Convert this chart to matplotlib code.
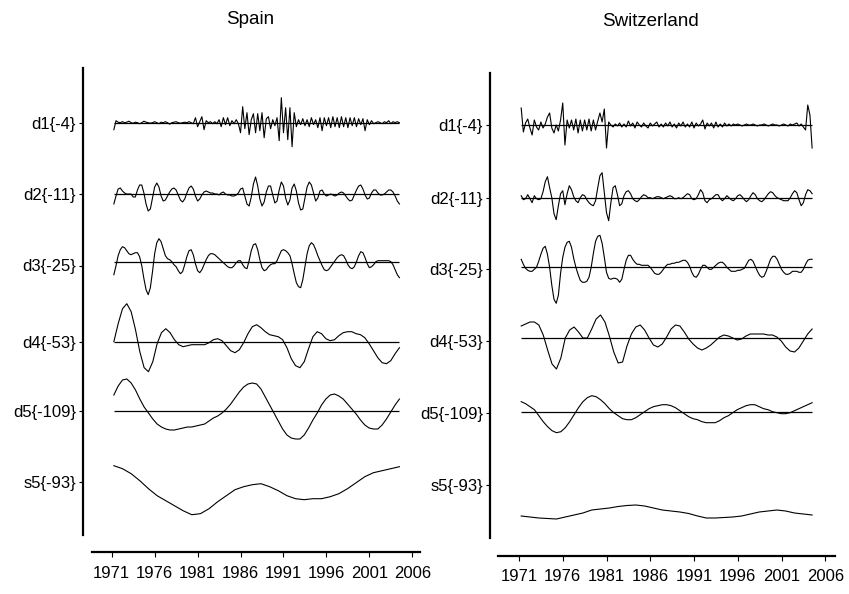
import numpy as np
import matplotlib
matplotlib.use("Agg")
import matplotlib.pyplot as plt

plt.rcParams['font.family'] = ['Liberation Sans', 'DejaVu Sans']

# wavelet MRA of two series, 1971Q2 - 2004Q3
row_labels = ['d1{-4}', 'd2{-11}', 'd3{-25}', 'd4{-53}', 'd5{-109}', 's5{-93}']
year_ticks = [1971, 1976, 1981, 1986, 1991, 1996, 2001, 2006]
t_start, t_end = 1971.25, 2004.5

# values are offsets (in row units, up = positive) from each row's zero line
spain_d1 = [-7, 2,
            0.5, 0, 1, 0, 0.5, 1.5, 0, -0.5, 0.5, 0, -1, 0, 1.5, 0.5, 0, -0.5, 0, 1,
            0, -1, 0.5, 0, 1, 0, -1.5, 0, 0.5, 1, 0, -0.5, 0, 0.5, 0, 1, 0, -1,
            5, -4, 1, 6, -7, 2, 0, 1, -1, 1, -1, 3, -4, 5, -2, 5, -3, 2, -1, 3, -1,
            -10, 16, -6, 10, -12, 3, 9, -10, 9, -8, 10, -15, 4, 6, -6, 3, -3, 5, -18, 25,
            -10, 15, -17, 15, -24, 10, -4, 3,
            -2, 4, -3, 3, -4, 5, -2, 3, -5, 5, -8, 5, -3, 5, -5, 6, -4, 5, -5, 6,
            -4, 5, -5, 5, -3, 5, -4, 4, -2, 4, -8, 3, -2, 2, -1, 0, 1, 0, -1, 1,
            0, 2, -1, 1, 0, 1, 0]
spain_d2 = [-10, -2, 5, 6, 3, 1, 0, 0, 0, -3, -3, 4, 9, 9, 1, -10, -17, -15, -4, 7,
            11, 7, -2, -7, -6, -2, 2, 5, 6, 4, -1, -6, -8, -5, 1, 6, 8, 5, -2, -7,
            -5, -1, 2, 3, 2, 1, 1, 0, 0, -1, 1, 2, 0, -1, -1, -2, -2, -1, 1, 5,
            6, -2, -10, -12, -3, 10, 17, 8, -5, -12, -8, 2, 8, 8, -1, -9, -7, 4, 12, 8,
            -4, -11, -6, 6, 10, 3, -9, -16, -15, -4, 7, 12, 9, 1, -7, -4, 3, 4, 0, -2,
            -1, 0, -1, -2, -1, 1, 2, 1, -2, -5, -7, -6, -1, 4, 8, 9, 5, -1, -5, -4,
            1, 4, 4, 1, -1, -1, 0, 2, 4, 4, 2, -2, -7, -10]
spain_d3 = [-13, -4, 6, 12, 15, 14, 11, 8, 7, 8, 9, 9, 5, -4, -17, -28, -33, -26, -10, 8,
            19, 23, 20, 13, 6, 3, 2, 0, -3, -5, -9, -12, -10, -3, 5, 11, 12, 7, -2, -9,
            -11, -8, -3, 2, 6, 8, 8, 7, 5, 3, 1, -1, -3, -5, -6, -6, -4, -1, 1, 1,
            -3, -6, -7, 1, 11, 17, 18, 12, 2, -6, -9, -8, -5, -3, -2, -2, 1, 6, 11, 12,
            11, 9, 6, -2, -12, -21, -25, -26, -18, -5, 8, 16, 19, 17, 12, 6, 1, -4, -8, -9,
            -8, -5, -2, 1, 4, 6, 7, 6, 2, -3, -6, -7, -5, 0, 6, 10, 9, 4, -2, -6,
            -5, -3, 0, 1, 1, 1, 1, 1, 1, 0, -3, -8, -13, -16]
spain_d4 = [0, 18, 33, 38, 30, 12, -10, -26, -30, -20, -2, 9, 13, 9, 2, -3, -5, -4, -3, -3,
            -3, -3, -1, 2, 3, 1, -4, -9, -11, -8, -1, 8, 15, 17, 14, 10, 7, 6, 5, 2,
            -6, -17, -24, -26, -20, -7, 5, 10, 8, 3, 1, 2, 6, 9, 10, 10, 8, 7, 4, -2,
            -9, -16, -21, -22, -19, -12, -6]
spain_d5 = [16, 25, 31, 32, 28, 21, 12, 4, -2, -8, -13, -16, -18, -19, -19, -18, -17, -16, -16, -15,
            -14, -13, -10, -7, -5, -2, 2, 7, 13, 19, 24, 27, 28, 27, 22, 14, 6, -2, -10, -18,
            -24, -27, -28, -28, -24, -17, -9, -2, 6, 12, 16, 17, 15, 12, 7, 2, -3, -9, -14, -17,
            -18, -18, -14, -8, -1, 6, 12]
spain_s5 = [16, 13, 8, 1, -7, -14, -19, -24, -29, -33, -32, -27, -20, -14, -8, -5, -3, -2, -5, -9,
            -14, -17, -18, -17, -17, -15, -12, -7, -1, 5, 9, 11, 13, 15]

swiss_d1 = [17, -7, 2, 6, -3, -10, 5, -2, -5, 3, -3, 1, 8, 12, -3, -8, 0, -6, 5, 22,
            -20, 5, -3, 5, -5, 6, -8, 5, -6, 5, -5, 6, -6, 5, -5, 4, 12, 3, 16, -23,
            3, 0, -2, 1, -1, 2, -2, 1, -2, 4, -1, 2, -3, 3, 0, -2, 2, -1, -3, 2,
            -1, 1, 3, -2, 1, -2, 2, -1, 3, -2, 1, -3, 2, -1, 3, -2, 1, -2, 3, -3,
            2, -1, 1, 5, -4, 2, -1, 2, -3, 3, -2, 1, -2, 2, -1, 1, -1, 1, 0, 1,
            0, -1, 0, 1, 0, 0, 1, 0, -1, 0, 0, 1, 0, -1, 0, 1, 0, 0, -1, 0,
            1, 0, -1, 1, 0, 1, 2, -1, 1, -2, -5, 20, 10, -23]
swiss_d2 = [2, -2, -1, 3, -1, -5, 2, -1, -2, -1, 6, 16, 21, 10, 0, -16, -22, -8, 4, 7,
            -7, 4, 12, 8, 1, -3, -5, 0, 3, 2, -2, -5, -7, -8, -3, 10, 22, 25, 5, -15,
            -23, -5, 10, 12, 3, -8, -6, 2, 6, 7, 4, -1, -3, -4, -2, 1, 3, 2, 0, 0,
            -1, 0, 1, 1, 0, -1, 0, 1, 2, 1, -1, -1, 0, -1, 0, 2, 4, 3, -1, -2,
            -1, 3, 8, 5, -3, -5, -2, -1, 1, 3, 3, -1, -3, -1, 2, 0, -2, -3, -1, 2,
            3, 1, -2, -4, -2, 2, 5, 3, -1, -3, -4, -2, 1, 4, 6, 5, 2, 0, -1, -2,
            -3, -3, -3, 0, 4, 7, 5, -2, -8, -5, 3, 8, 7, 4]
swiss_d3 = [8, 3, -1, -3, -4, -4, -2, 0, 6, 13, 19, 21, 13, 0, -18, -32, -36, -28, -6, 10,
            20, 25, 26, 20, 9, 0, -7, -13, -15, -15, -14, -10, 0, 14, 26, 31, 32, 24, 10, -5,
            -11, -12, -11, -11, -12, -15, -12, -2, 7, 12, 12, 8, 5, 3, 3, 2, 2, 2, 2, 0,
            -3, -6, -7, -7, -5, -2, 1, 3, 3, 4, 4, 5, 5, 6, 7, 7, 5, 1, -5, -9,
            -10, -7, -2, 2, 2, 0, -2, -2, 0, 2, 4, 5, 5, 3, 0, -2, -4, -4, -4, -3,
            -3, -2, -1, 3, 7, 8, 6, 1, -4, -8, -10, -9, -4, 2, 8, 11, 11, 8, 3, -2,
            -5, -7, -7, -6, -4, -4, -4, -5, -5, -2, 3, 7, 8, 8]
swiss_d4 = [12, 14, 16, 16, 13, 3, -12, -26, -31, -20, 0, 8, 11, 6, 0, 0, 9, 19, 23, 16,
            2, -14, -25, -24, -8, 4, 11, 13, 8, 0, -7, -9, -6, 1, 9, 13, 12, 6, -1, -6,
            -10, -12, -10, -7, -3, 1, 3, 2, 0, -2, -1, 2, 4, 4, 4, 4, 3, 3, 1, -3,
            -9, -13, -14, -10, -3, 4, 9]
swiss_d5 = [10, 8, 5, 2, -4, -10, -15, -19, -21, -20, -16, -10, -3, 4, 10, 14, 16, 15, 12, 8,
            3, -1, -4, -7, -8, -8, -6, -3, 0, 3, 5, 6, 7, 7, 6, 4, 1, -2, -5, -7,
            -8, -10, -11, -11, -11, -9, -6, -4, -1, 2, 4, 6, 7, 7, 5, 3, 2, 0, -1, -2,
            -2, -1, 1, 3, 5, 7, 9]
swiss_s5 = [-31, -32, -33, -33.5, -34, -32, -30, -28, -25, -24, -23, -21.5, -20.5, -20, -21, -23,
            -25, -26, -27, -28.5, -31, -33, -33, -32.5, -32, -31, -29, -27, -26, -25,
            -26, -28, -29, -30]

W, H = 849, 594
fig = plt.figure(figsize=(W / 100, H / 100), dpi=100)


def panel(title, series, geo):
    left, right, top, axis_bottom, xaxis_y, xaxis_left, px1971, ppy, ticks_y, zero_y, title_xy = geo
    ax = fig.add_axes([left / W, 1 - xaxis_y / H, (right - left) / W, (xaxis_y - top) / H])
    yr = lambda p: 1971 + (p - px1971) / ppy
    ax.set_xlim(yr(left), yr(right))
    ax.set_ylim(xaxis_y, top)
    for k, vals in enumerate(series):
        t = np.linspace(t_start, t_end, len(vals))
        ax.plot(t, zero_y[k] - np.array(vals), color='black', lw=0.8)
        if k < 5:
            ax.hlines(zero_y[k], t_start, t_end, color='black', lw=0.9)
    ax.spines['top'].set_visible(False)
    ax.spines['right'].set_visible(False)
    ax.spines['left'].set_bounds(axis_bottom, top)
    ax.spines['bottom'].set_bounds(yr(xaxis_left), yr(right))
    ax.spines['left'].set_linewidth(1.6)
    ax.spines['bottom'].set_linewidth(1.6)
    ax.set_yticks(ticks_y)
    ax.set_yticklabels(row_labels)
    ax.set_xticks(year_ticks)
    ax.set_xticklabels([str(y) for y in year_ticks])
    ax.tick_params(axis='y', length=3, width=0.8, pad=2, labelsize=12)
    ax.tick_params(axis='x', length=3.8, width=0.8, pad=6, labelsize=12)
    fig.text(title_xy[0] / W, 1 - title_xy[1] / H, title, ha='center', va='center', fontsize=13.5)
    return ax


panel('Spain', [spain_d1, spain_d2, spain_d3, spain_d4, spain_d5, spain_s5],
      (83, 420, 68, 535, 552, 92, 111.7, 8.589,
       [122.7, 194, 265.5, 341.7, 411, 481.7],
       [122.7, 194, 261.7, 341.7, 411, 481.7], (250, 20)))
panel('Switzerland', [swiss_d1, swiss_d2, swiss_d3, swiss_d4, swiss_d5, swiss_s5],
      (490, 835, 72.7, 538.3, 555.7, 498.3, 519, 8.75,
       [125.5, 197.7, 269, 341.5, 413, 485],
       [125, 197.7, 267.3, 338, 411.7, 485], (650, 22)))

fig.savefig('out.png', dpi=100)
